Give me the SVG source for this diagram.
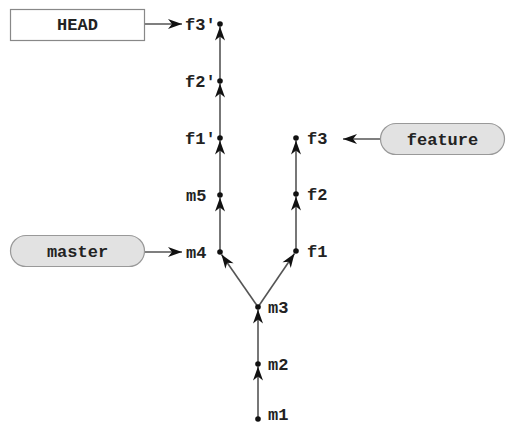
<svg xmlns="http://www.w3.org/2000/svg" width="509" height="425" viewBox="0 0 509 425">
<defs>
<style>
.lbl{font-family:"Liberation Mono","DejaVu Sans Mono",monospace;font-weight:bold;font-size:17px;fill:#222}
.edge{stroke:#555;stroke-width:1.6;fill:none}
.dot{fill:#111}
.pill{fill:#e2e2e2;stroke:#999;stroke-width:1.2}
.box{fill:#fff;stroke:#888;stroke-width:1.2}
</style>
<marker id="ah" markerUnits="userSpaceOnUse" markerWidth="16" markerHeight="12" viewBox="-15 -6 16 12" refX="0" refY="0" orient="auto">
<path d="M0,0 L-14,-5 L-10,0 L-14,5 z" fill="#111"/>
</marker>
</defs>
<rect width="509" height="425" fill="#fff"/>
<g id="connectors">
<line class="edge" x1="258" y1="419" x2="258" y2="366.5" marker-end="url(#ah)"/>
<line class="edge" x1="258" y1="364" x2="258" y2="309.5" marker-end="url(#ah)"/>
<line class="edge" x1="258" y1="307" x2="221.5" y2="254.5" marker-end="url(#ah)"/>
<line class="edge" x1="258" y1="307" x2="294.5" y2="253.5" marker-end="url(#ah)"/>
<line class="edge" x1="220" y1="252" x2="220" y2="197.5" marker-end="url(#ah)"/>
<line class="edge" x1="220" y1="195" x2="220" y2="140.5" marker-end="url(#ah)"/>
<line class="edge" x1="220" y1="138" x2="220" y2="83.5" marker-end="url(#ah)"/>
<line class="edge" x1="220" y1="81" x2="220" y2="26.5" marker-end="url(#ah)"/>
<line class="edge" x1="296" y1="251" x2="296" y2="196.5" marker-end="url(#ah)"/>
<line class="edge" x1="296" y1="194" x2="296" y2="140.5" marker-end="url(#ah)"/>
<line class="edge" x1="145" y1="24" x2="182" y2="24" marker-end="url(#ah)"/>
<line class="edge" x1="145" y1="252" x2="182" y2="252" marker-end="url(#ah)"/>
<line class="edge" x1="380" y1="139" x2="343" y2="139" marker-end="url(#ah)"/>
</g>
<g id="HEAD"><rect class="box" x="10.5" y="9.5" width="134" height="31"/><text class="lbl" x="77.5" y="30" text-anchor="middle">HEAD</text></g>
<g id="master"><rect class="pill" x="10.5" y="235.5" width="134" height="31" rx="15.5"/><text class="lbl" x="77.5" y="257" text-anchor="middle">master</text></g>
<g id="feature"><rect class="pill" x="380.5" y="123.5" width="124" height="31" rx="15.5"/><text class="lbl" x="442.5" y="145" text-anchor="middle">feature</text></g>
<g id="f3p"><circle class="dot" cx="220" cy="24" r="2.8"/><text class="lbl" x="185" y="30">f3'</text></g>
<g id="f2p"><circle class="dot" cx="220" cy="81" r="2.8"/><text class="lbl" x="185" y="87">f2'</text></g>
<g id="f1p"><circle class="dot" cx="220" cy="138" r="2.8"/><text class="lbl" x="185" y="144">f1'</text></g>
<g id="m5"><circle class="dot" cx="220" cy="195" r="2.8"/><text class="lbl" x="186" y="201">m5</text></g>
<g id="m4"><circle class="dot" cx="220" cy="252" r="2.8"/><text class="lbl" x="186" y="258">m4</text></g>
<g id="f3"><circle class="dot" cx="296" cy="138" r="2.8"/><text class="lbl" x="307" y="144">f3</text></g>
<g id="f2"><circle class="dot" cx="296" cy="194" r="2.8"/><text class="lbl" x="307" y="200">f2</text></g>
<g id="f1"><circle class="dot" cx="296" cy="251" r="2.8"/><text class="lbl" x="307" y="257">f1</text></g>
<g id="m3"><circle class="dot" cx="258" cy="307" r="2.8"/><text class="lbl" x="268" y="313">m3</text></g>
<g id="m2"><circle class="dot" cx="258" cy="364" r="2.8"/><text class="lbl" x="268" y="370">m2</text></g>
<g id="m1"><circle class="dot" cx="258" cy="419" r="2.8"/><text class="lbl" x="268" y="420">m1</text></g>
</svg>
